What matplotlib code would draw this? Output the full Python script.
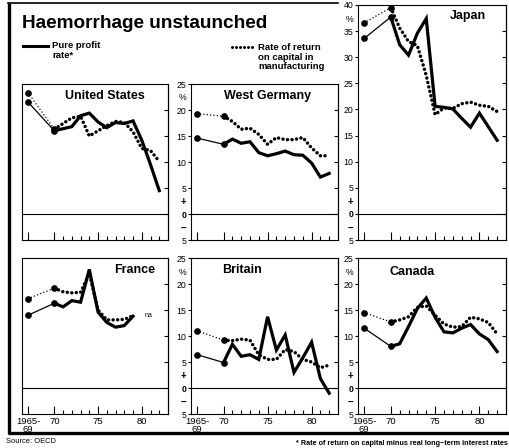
import matplotlib
matplotlib.use("Agg")
import matplotlib.pyplot as plt
from matplotlib.lines import Line2D

plt.rcParams['font.family'] = ['Liberation Sans', 'DejaVu Sans']

W, H = 510, 448

years = [67, 70, 71, 72, 73, 74, 75, 76, 77, 78, 79, 80, 81, 82]
year_ticks = [67, 70, 75, 80]
year_labels = ['1965-\n69', '70', '75', '80']
minor_years = [71, 72, 73, 74, 76, 77, 78, 79, 81, 82]

us_profit = [21.5, 16.0, 16.4, 16.8, 18.9, 19.4, 17.7, 16.6, 17.6, 17.4, 17.9, 14.2, 9.5, 4.5]
us_return = [23.3, 16.3, 17.4, 18.5, 18.8, 15.0, 16.0, 17.0, 17.8, 17.6, 15.8, 12.6, 12.2, 10.1]

wg_profit = [14.6, 13.4, 14.4, 13.6, 13.9, 11.8, 11.2, 11.6, 12.1, 11.4, 11.3, 9.8, 7.1, 7.8]
wg_return = [19.3, 18.8, 17.8, 16.3, 16.5, 15.3, 13.4, 14.7, 14.3, 14.3, 14.7, 12.7, 11.2, 11.2]

jp_profit = [33.6, 37.7, 32.4, 30.4, 34.6, 37.4, 20.6, 20.4, 20.1, 18.3, 16.6, 19.3, 16.7, 14.1]
jp_return = [36.6, 39.5, 35.6, 33.0, 32.2, 26.5, 19.0, 20.3, 20.2, 21.1, 21.4, 20.8, 20.6, 19.6]

fr_profit = [14.0, 16.3, 15.6, 16.8, 16.5, 22.8, 14.6, 12.6, 11.7, 12.0, 13.8]
fr_return = [17.2, 19.2, 18.5, 18.3, 18.4, 22.0, 15.0, 13.1, 13.1, 13.2, 13.9]

br_profit = [6.4, 4.9, 8.4, 6.1, 6.4, 5.5, 13.7, 7.3, 10.2, 3.0, 5.8, 8.8, 1.8, -1.0]
br_return = [11.0, 9.2, 9.1, 9.4, 9.2, 6.4, 5.5, 5.5, 7.4, 7.0, 5.5, 5.0, 3.9, 4.4]

ca_profit = [11.5, 8.0, 8.5, 11.8, 15.3, 17.3, 13.6, 10.8, 10.6, 11.5, 12.2, 10.4, 9.3, 7.0]
ca_return = [14.5, 12.7, 13.1, 13.7, 15.5, 15.8, 14.0, 12.3, 11.7, 11.8, 13.6, 13.3, 12.6, 10.4]

DOT = (0, (0.01, 1.3))
FINE_DOT = (0, (0.01, 2.2))


def fig_rect(x0, y0, x1, y1):
    return [x0 / W, 1 - y1 / H, (x1 - x0) / W, (y1 - y0) / H]


def fx(x):
    return x / W


def fy(y):
    return 1 - y / H


def draw_series(ax, xs, profit, ret):
    n = len(profit)
    x = xs[:n]
    # thin first segment (1965-69 average to 1970)
    ax.plot(x[:2], profit[:2], color='black', lw=0.9, zorder=3)
    ax.plot(x[:2], ret[:2], color='black', lw=1.1, linestyle=FINE_DOT,
            dash_capstyle='round', zorder=3)
    ax.plot(x[1:], profit[1:], color='black', lw=2.3, solid_joinstyle='miter', zorder=4)
    ax.plot(x[1:], ret[1:], color='black', lw=2.5, linestyle=DOT,
            dash_capstyle='round', zorder=3)
    ax.plot(x[:2], profit[:2], 'o', color='black', ms=3.8, zorder=5)
    ax.plot(x[:2], ret[:2], 'o', color='black', ms=3.8, zorder=5)


def setup(ax, top, show_y, show_x):
    ax.set_xlim(66.3, 83.0)
    ax.set_ylim(-5, top)
    ax.axhline(0, color='black', lw=0.8, zorder=1)
    for s in ax.spines.values():
        s.set_linewidth(0.8)
    ax.set_xticks(year_ticks)
    ax.set_xticks(minor_years, minor=True)
    ax.tick_params(axis='x', which='major', direction='in', length=5.5, width=0.8,
                   bottom=True, top=False, labelsize=6.8, pad=2.5)
    ax.tick_params(axis='x', which='minor', direction='in', length=3, width=0.8,
                   bottom=True, top=False)
    if show_x:
        ax.set_xticklabels(year_labels, linespacing=0.8)
    else:
        ax.set_xticklabels([])

    major = list(range(top, -10, -5))
    inner = [v for v in major if -5 < v < top]
    sec = ax.secondary_yaxis('right')
    sec.set_yticks(inner)
    sec.tick_params(axis='y', direction='in', length=3, width=0.8, labelright=False)
    sec.spines['right'].set_linewidth(0.8)

    if show_y:
        labels = [str(abs(v)) for v in major]
        ax.set_yticks(major)
        ax.set_yticklabels(labels)
        ax.set_yticks([top - 2.5, 2.5, -2.5], minor=True)
        ax.set_yticklabels(['%', '+', '\u2212'], minor=True)
        ax.tick_params(axis='y', which='major', direction='out', length=2, width=0.8,
                       labelsize=6.3, pad=1.5, right=False)
        ax.tick_params(axis='y', which='minor', length=0, labelsize=7, pad=3.5, right=False)
        for t in ax.get_yticklabels():
            if t.get_text() == '0':
                t.set_fontweight('bold')
        for t in ax.get_yticklabels(minor=True):
            if t.get_text() == '%':
                t.set_fontsize(6.3)
            else:
                t.set_fontweight('bold')
    else:
        ax.set_yticks([])


fig = plt.figure(figsize=(W / 100, H / 100), dpi=100)

cols = [(22, 168), (191, 338), (358, 506)]
row1 = (84, 240)
row2 = (258, 414)

panels = [
    ("United States", us_profit, us_return, cols[0], row1, 25, False, False, 0.84, 'right', 22.6),
    ("West Germany", wg_profit, wg_return, cols[1], row1, 25, True, False, 0.52, 'center', 22.6),
    ("Japan", jp_profit, jp_return, cols[2], (5, 240), 40, True, False, 0.865, 'right', 37.8),
    ("France", fr_profit, fr_return, cols[0], row2, 25, False, True, 0.91, 'right', 22.7),
    ("Britain", br_profit, br_return, cols[1], row2, 25, True, True, 0.21, 'left', 22.7),
    ("Canada", ca_profit, ca_return, cols[2], row2, 25, True, True, 0.21, 'left', 22.3),
]

for name, prof, ret, (x0, x1), (y0, y1), top, show_y, show_x, tx, ha, ty in panels:
    ax = fig.add_axes(fig_rect(x0, y0, x1, y1))
    setup(ax, top, show_y, show_x)
    draw_series(ax, years, prof, ret)
    ax.text(tx, ty, name, transform=ax.get_yaxis_transform(), ha=ha, va='center',
            fontsize=9, fontweight='bold')
    if name == "France":
        ax.text(80.3, 13.9, 'na', fontsize=5, ha='left', va='center')

# frame
fig.add_artist(Line2D([fx(9), fx(9)], [fy(3), fy(434)], transform=fig.transFigure,
                      color='black', lw=2.4, solid_capstyle='butt'))
fig.add_artist(Line2D([fx(8), fx(338)], [fy(3.5), fy(3.5)], transform=fig.transFigure,
                      color='black', lw=1.2))
fig.add_artist(Line2D([fx(8), fx(510)], [fy(432.5), fy(432.5)], transform=fig.transFigure,
                      color='black', lw=2.4, solid_capstyle='butt'))

# title and legend
fig.text(fx(22), fy(28), "Haemorrhage unstaunched", fontsize=13.7, fontweight='bold',
         ha='left', va='baseline')
fig.add_artist(Line2D([fx(23), fx(48)], [fy(46), fy(46)], transform=fig.transFigure,
                      color='black', lw=2.2))
fig.text(fx(52), fy(48.5), "Pure profit", fontsize=6.8, fontweight='bold',
         ha='left', va='baseline')
fig.text(fx(52), fy(58), "rate*", fontsize=6.8, fontweight='bold',
         ha='left', va='baseline')
fig.add_artist(Line2D([fx(232), fx(254)], [fy(47.5), fy(47.5)], transform=fig.transFigure,
                      color='black', lw=2.2, linestyle=DOT, dash_capstyle='round'))
fig.text(fx(258), fy(49.5), "Rate of return", fontsize=6.8, fontweight='bold',
         ha='left', va='baseline')
fig.text(fx(258), fy(59.5), "on capital in", fontsize=6.8, fontweight='bold',
         ha='left', va='baseline')
fig.text(fx(258), fy(69), "manufacturing", fontsize=6.8, fontweight='bold',
         ha='left', va='baseline')

# source and footnote
fig.text(fx(6), fy(441), "Source: OECD", fontsize=5.4, ha='left', va='center')
fig.text(fx(508), fy(443), "* Rate of return on capital minus real long\u2212term interest rates",
         fontsize=5.2, fontweight='bold', ha='right', va='center')

fig.savefig("out.png", dpi=100)
